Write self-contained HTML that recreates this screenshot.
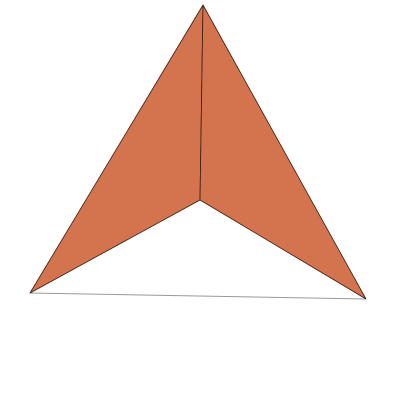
<!DOCTYPE html>
<html><head><meta charset="utf-8"><style>
html,body{margin:0;padding:0;background:#fff;width:400px;height:400px;overflow:hidden}
</style></head><body>
<svg id="chart" width="400" height="400" xmlns="http://www.w3.org/2000/svg"></svg>
<script>
const apex = [203, 5];
const center = [200, 200];
const leftBase = [30, 293];
const rightBase = [366, 299];
const faceColor = "#d4744f";
const svg = document.getElementById('chart');
const NS = "http://www.w3.org/2000/svg";
function pts(a){return a.map(p=>p.join(',')).join(' ');}
function poly(points, name){
  const p = document.createElementNS(NS,'polygon');
  p.setAttribute('points', pts(points));
  p.setAttribute('fill', faceColor);
  p.setAttribute('stroke', '#3a1a10');
  p.setAttribute('stroke-width', '0.8');
  p.setAttribute('stroke-linejoin', 'round');
  
  
  svg.appendChild(p);
}
const base = document.createElementNS(NS,'line');
base.setAttribute('x1', leftBase[0]); base.setAttribute('y1', leftBase[1]);
base.setAttribute('x2', rightBase[0]); base.setAttribute('y2', rightBase[1]);
base.setAttribute('stroke', '#999'); base.setAttribute('stroke-width', '1');


svg.appendChild(base);
poly([apex, leftBase, center], 'left-face');
poly([apex, center, rightBase], 'right-face');
</script>
</body></html>
